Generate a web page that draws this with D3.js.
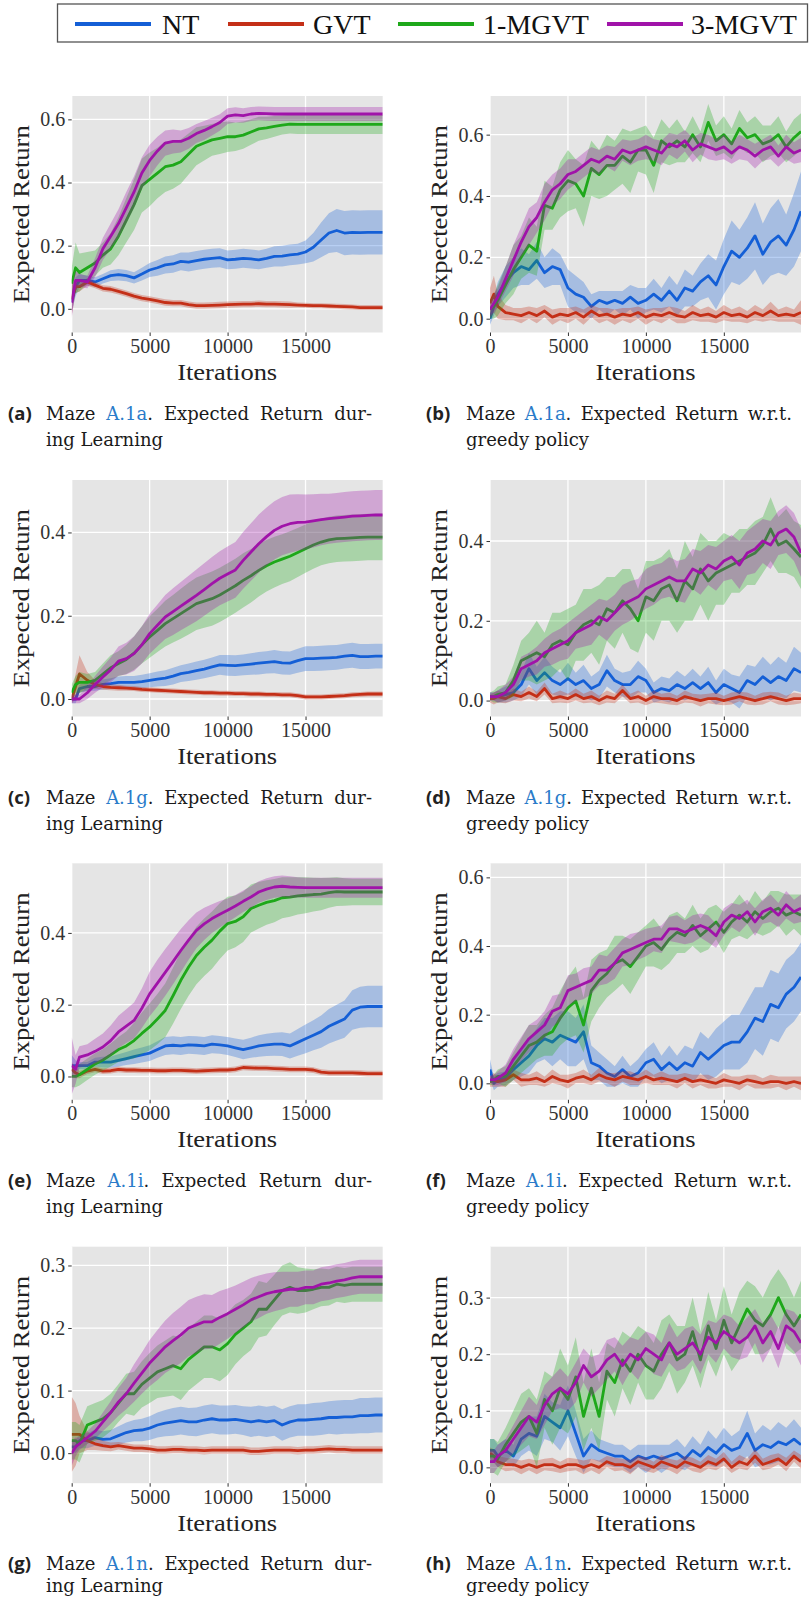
<!DOCTYPE html>
<html><head><meta charset="utf-8">
<script src="https://cdn.jsdelivr.net/npm/d3@7"></script>
<style>body{margin:0;background:#fff}svg{display:block}</style>
</head><body>
<svg id="c" width="809" height="1598"></svg>
<script>
// ---------- shared categories / ticks ----------
const iterations = [0,250,500,1000,1500,2000,2500,3000,3500,4000, 4500,5000,5500,6000,6500,7000,7500,8000,8500,9000, 9500,10000,10500,11000,11500,12000,12500,13000,13500,14000, 14500,15000,15500,16000,16500,17000,17500,18000,18500,19000, 19500,19950];
const seriesNames = ["NT","GVT","1-MGVT","3-MGVT"];
const xTickValues = [0,5000,10000,15000];
const panelLetters = ["a","b","c","d","e","f","g","h"];
const mazeRefs = ["A.1a","A.1a","A.1g","A.1g","A.1i","A.1i","A.1n","A.1n"];
const captionTails = [". Expected Return dur-", ". Expected Return w.r.t."];
const captionLine2 = ["ing Learning","greedy policy"];
const xLabel = "Iterations", yLabel = "Expected Return";
const yTicks_a = [0,0.2,0.4,0.6], yTicks_b = [0,0.2,0.4,0.6];
const yTicks_c = [0,0.2,0.4], yTicks_d = [0,0.2,0.4];
const yTicks_e = [0,0.2,0.4], yTicks_f = [0,0.2,0.4,0.6];
const yTicks_g = [0,0.1,0.2,0.3], yTicks_h = [0,0.1,0.2,0.3];

// ---------- panel (a) ----------
const aNT = [0.02,0.07,0.09,0.09,0.085,0.095,0.105,0.108,0.105,0.098, 0.11,0.123,0.13,0.139,0.142,0.15,0.148,0.153,0.157,0.16, 0.162,0.155,0.157,0.16,0.158,0.155,0.16,0.166,0.167,0.171, 0.173,0.18,0.195,0.218,0.24,0.248,0.24,0.242,0.241,0.242, 0.242,0.242];
const aNTs = [0.03,0.03,0.02,0.015,0.015,0.015,0.017,0.018,0.018,0.018, 0.02,0.022,0.025,0.027,0.028,0.028,0.03,0.03,0.03,0.03, 0.03,0.03,0.03,0.03,0.03,0.03,0.03,0.032,0.033,0.033, 0.033,0.036,0.045,0.055,0.063,0.068,0.07,0.07,0.07,0.07, 0.07,0.07];
const aGVT = [0.03,0.07,0.07,0.085,0.075,0.065,0.062,0.055,0.048,0.04, 0.034,0.03,0.025,0.02,0.018,0.018,0.013,0.01,0.01,0.011, 0.012,0.013,0.014,0.015,0.015,0.016,0.015,0.015,0.014,0.013, 0.012,0.011,0.01,0.01,0.009,0.008,0.007,0.006,0.004,0.004, 0.004,0.004];
const aGVTs = [0.05,0.02,0.015,0.012,0.01,0.01,0.01,0.01,0.01,0.01, 0.01,0.01,0.01,0.01,0.01,0.01,0.01,0.01,0.01,0.01, 0.01,0.01,0.01,0.01,0.01,0.01,0.01,0.01,0.01,0.01, 0.008,0.008,0.008,0.008,0.008,0.008,0.008,0.008,0.008,0.008, 0.008,0.008];
const a1M = [0.08,0.13,0.115,0.13,0.145,0.17,0.19,0.23,0.28,0.33, 0.39,0.41,0.43,0.45,0.455,0.466,0.49,0.515,0.525,0.535, 0.54,0.545,0.545,0.55,0.56,0.57,0.573,0.578,0.582,0.585, 0.584,0.584,0.584,0.584,0.584,0.584,0.584,0.584,0.584,0.584, 0.584,0.584];
const a1Ms = [0.05,0.08,0.06,0.05,0.04,0.04,0.05,0.06,0.07,0.08, 0.085,0.085,0.08,0.08,0.075,0.07,0.065,0.06,0.055,0.05, 0.05,0.048,0.045,0.043,0.04,0.038,0.035,0.033,0.03,0.03, 0.03,0.03,0.03,0.03,0.03,0.03,0.03,0.03,0.03,0.03, 0.03,0.03];
const a3M = [0.02,0.09,0.09,0.085,0.13,0.19,0.23,0.27,0.32,0.37, 0.43,0.47,0.5,0.525,0.53,0.53,0.54,0.555,0.565,0.577, 0.59,0.61,0.614,0.612,0.617,0.619,0.618,0.617,0.617,0.617, 0.617,0.617,0.617,0.617,0.617,0.617,0.617,0.617,0.617,0.617, 0.617,0.617];
const a3Ms = [0.05,0.03,0.02,0.02,0.03,0.035,0.04,0.045,0.05,0.05, 0.05,0.05,0.045,0.04,0.038,0.035,0.033,0.03,0.03,0.028, 0.026,0.025,0.024,0.023,0.022,0.022,0.022,0.022,0.022,0.022, 0.022,0.022,0.022,0.022,0.022,0.022,0.022,0.022,0.022,0.022, 0.022,0.022];

// ---------- panel (b) ----------
const bNT = [0.0,0.04,0.08,0.12,0.15,0.17,0.16,0.19,0.15,0.17, 0.16,0.1,0.08,0.07,0.04,0.06,0.05,0.06,0.05,0.07, 0.05,0.06,0.08,0.06,0.09,0.06,0.1,0.09,0.12,0.14, 0.11,0.17,0.22,0.2,0.23,0.27,0.21,0.25,0.27,0.24, 0.29,0.35];
const bNTs = [0.02,0.03,0.04,0.05,0.05,0.06,0.05,0.06,0.05,0.06, 0.05,0.06,0.06,0.05,0.04,0.03,0.04,0.03,0.04,0.04, 0.05,0.04,0.05,0.04,0.05,0.05,0.06,0.05,0.06,0.07, 0.08,0.09,0.1,0.09,0.1,0.11,0.1,0.11,0.12,0.1, 0.12,0.13];
const bGVT = [0.05,0.08,0.04,0.02,0.015,0.01,0.02,0.01,0.025,0.005, 0.015,0.01,0.02,0.005,0.025,0.01,0.015,0.005,0.015,0.01, 0.02,0.005,0.015,0.01,0.02,0.01,0.005,0.02,0.01,0.015, 0.005,0.02,0.01,0.015,0.005,0.02,0.01,0.025,0.01,0.015, 0.01,0.02];
const bGVTs = [0.05,0.06,0.04,0.025,0.02,0.025,0.02,0.025,0.02,0.025, 0.02,0.025,0.02,0.025,0.02,0.025,0.02,0.025,0.02,0.025, 0.02,0.025,0.02,0.025,0.02,0.025,0.02,0.025,0.02,0.025, 0.02,0.025,0.02,0.025,0.02,0.025,0.02,0.03,0.02,0.025, 0.02,0.04];
const b1M = [0.03,0.04,0.06,0.11,0.16,0.2,0.24,0.22,0.37,0.36, 0.42,0.45,0.44,0.4,0.49,0.47,0.5,0.5,0.53,0.51, 0.55,0.55,0.5,0.58,0.56,0.58,0.56,0.6,0.56,0.64, 0.58,0.6,0.57,0.62,0.59,0.6,0.57,0.58,0.6,0.56, 0.59,0.61];
const b1Ms = [0.03,0.04,0.05,0.06,0.08,0.07,0.09,0.08,0.08,0.07, 0.09,0.1,0.08,0.1,0.09,0.08,0.1,0.08,0.09,0.1, 0.07,0.08,0.09,0.07,0.06,0.07,0.05,0.06,0.05,0.06, 0.05,0.06,0.05,0.06,0.05,0.06,0.06,0.05,0.06,0.05, 0.06,0.06];
const b3M = [0.03,0.05,0.07,0.13,0.19,0.25,0.3,0.33,0.38,0.42, 0.44,0.47,0.48,0.5,0.52,0.51,0.53,0.52,0.55,0.54, 0.55,0.56,0.55,0.54,0.57,0.56,0.58,0.55,0.57,0.56, 0.55,0.56,0.54,0.56,0.55,0.53,0.55,0.56,0.53,0.56, 0.54,0.55];
const b3Ms = [0.02,0.03,0.03,0.04,0.05,0.05,0.06,0.05,0.06,0.05, 0.05,0.05,0.04,0.04,0.04,0.04,0.035,0.04,0.035,0.04, 0.035,0.04,0.035,0.04,0.035,0.04,0.035,0.04,0.035,0.04, 0.035,0.04,0.035,0.04,0.035,0.04,0.035,0.04,0.035,0.04, 0.035,0.04];

// ---------- panel (c) ----------
const cNT = [0.0,0.0,0.025,0.03,0.03,0.035,0.037,0.04,0.04,0.04, 0.042,0.045,0.048,0.05,0.055,0.061,0.064,0.068,0.072,0.077, 0.082,0.081,0.08,0.082,0.084,0.086,0.088,0.09,0.087,0.086, 0.092,0.097,0.097,0.098,0.099,0.1,0.103,0.105,0.102,0.102, 0.103,0.103];
const cNTs = [0.01,0.01,0.01,0.01,0.01,0.012,0.013,0.014,0.015,0.015, 0.016,0.017,0.018,0.019,0.02,0.02,0.021,0.022,0.022,0.023, 0.024,0.025,0.025,0.025,0.026,0.027,0.027,0.028,0.028,0.028, 0.029,0.03,0.03,0.03,0.03,0.03,0.03,0.03,0.03,0.03, 0.03,0.03];
const cGVT = [0.0,0.03,0.06,0.045,0.035,0.03,0.028,0.027,0.026,0.025, 0.023,0.022,0.021,0.02,0.019,0.018,0.017,0.016,0.015,0.015, 0.014,0.014,0.013,0.013,0.012,0.012,0.011,0.011,0.01,0.01, 0.008,0.005,0.005,0.005,0.006,0.007,0.008,0.01,0.011,0.012, 0.012,0.012];
const cGVTs = [0.01,0.03,0.045,0.02,0.01,0.008,0.007,0.007,0.006,0.006, 0.006,0.006,0.006,0.006,0.006,0.006,0.006,0.006,0.006,0.006, 0.006,0.006,0.006,0.006,0.006,0.006,0.006,0.006,0.006,0.006, 0.006,0.006,0.006,0.006,0.006,0.006,0.006,0.006,0.006,0.006, 0.006,0.006];
const c1M = [0.015,0.035,0.04,0.04,0.045,0.06,0.075,0.085,0.095,0.11, 0.13,0.149,0.165,0.181,0.193,0.205,0.217,0.229,0.235,0.241, 0.25,0.261,0.272,0.285,0.296,0.309,0.32,0.329,0.336,0.343, 0.352,0.361,0.37,0.377,0.382,0.385,0.386,0.387,0.388,0.389, 0.389,0.389];
const c1Ms = [0.02,0.02,0.025,0.02,0.02,0.025,0.03,0.03,0.035,0.04, 0.045,0.05,0.052,0.055,0.057,0.06,0.062,0.063,0.064,0.065, 0.065,0.065,0.065,0.065,0.064,0.063,0.062,0.061,0.06,0.06, 0.059,0.058,0.057,0.056,0.056,0.056,0.056,0.056,0.056,0.056, 0.056,0.056];
const c3M = [0.0,0.0,0.0,0.015,0.035,0.053,0.07,0.091,0.097,0.109, 0.13,0.157,0.177,0.197,0.21,0.223,0.236,0.249,0.263,0.277, 0.29,0.3,0.31,0.333,0.353,0.373,0.39,0.405,0.415,0.421, 0.424,0.425,0.428,0.431,0.433,0.435,0.437,0.439,0.44,0.441, 0.442,0.442];
const c3Ms = [0.01,0.01,0.01,0.015,0.02,0.025,0.03,0.035,0.038,0.042, 0.045,0.048,0.05,0.053,0.056,0.058,0.06,0.062,0.063,0.064, 0.065,0.066,0.067,0.068,0.069,0.07,0.07,0.07,0.07,0.07, 0.068,0.066,0.064,0.062,0.06,0.06,0.06,0.06,0.06,0.06, 0.06,0.06];

// ---------- panel (d) ----------
const dNT = [0.01,0.01,0.01,0.015,0.02,0.04,0.08,0.05,0.07,0.05, 0.04,0.055,0.04,0.05,0.03,0.04,0.075,0.05,0.04,0.04, 0.06,0.05,0.02,0.03,0.025,0.04,0.03,0.045,0.03,0.045, 0.02,0.04,0.03,0.02,0.05,0.04,0.06,0.045,0.06,0.05, 0.08,0.07];
const dNTs = [0.01,0.01,0.015,0.02,0.02,0.03,0.04,0.035,0.04,0.035, 0.03,0.04,0.03,0.04,0.03,0.035,0.04,0.03,0.03,0.035, 0.04,0.03,0.025,0.03,0.03,0.035,0.03,0.035,0.03,0.04, 0.03,0.04,0.035,0.04,0.04,0.045,0.05,0.045,0.05,0.045, 0.055,0.05];
const dGVT = [0.005,0.005,0.01,0.005,0.015,0.01,0.02,0.01,0.03,0.005, 0.01,0.005,0.015,0.005,0.01,0.0,0.01,0.005,0.025,0.005, 0.01,0.0,0.01,0.005,0.005,0.0,0.01,0.005,0.0,0.005, 0.005,0.0,0.005,0.01,0.005,0.0,0.005,0.01,0.005,0.0, 0.005,0.005];
const dGVTs = [0.01,0.015,0.015,0.012,0.015,0.012,0.015,0.012,0.015,0.012, 0.015,0.012,0.015,0.012,0.015,0.012,0.015,0.012,0.015,0.012, 0.015,0.012,0.015,0.012,0.015,0.012,0.015,0.012,0.015,0.012, 0.015,0.012,0.015,0.012,0.015,0.012,0.015,0.012,0.015,0.012, 0.015,0.012];
const d1M = [0.01,0.01,0.015,0.02,0.05,0.1,0.11,0.12,0.11,0.14, 0.15,0.14,0.17,0.19,0.2,0.19,0.23,0.22,0.25,0.23, 0.2,0.26,0.25,0.28,0.29,0.25,0.3,0.28,0.33,0.3, 0.32,0.33,0.34,0.35,0.36,0.37,0.39,0.43,0.39,0.4, 0.38,0.36];
const d1Ms = [0.01,0.015,0.02,0.02,0.04,0.05,0.06,0.08,0.06,0.08, 0.07,0.09,0.07,0.09,0.08,0.1,0.08,0.09,0.08,0.1, 0.08,0.09,0.1,0.08,0.09,0.08,0.1,0.08,0.09,0.1, 0.08,0.09,0.07,0.08,0.07,0.08,0.07,0.08,0.07,0.08, 0.07,0.08];
const d3M = [0.01,0.01,0.01,0.02,0.04,0.08,0.09,0.1,0.12,0.13, 0.14,0.15,0.17,0.18,0.19,0.21,0.2,0.22,0.24,0.25, 0.26,0.28,0.29,0.3,0.31,0.3,0.3,0.33,0.32,0.34, 0.33,0.35,0.36,0.34,0.37,0.38,0.4,0.39,0.42,0.43, 0.41,0.37];
const d3Ms = [0.01,0.01,0.015,0.02,0.02,0.03,0.03,0.035,0.035,0.04, 0.04,0.045,0.04,0.045,0.05,0.045,0.05,0.045,0.05,0.05, 0.045,0.05,0.05,0.045,0.05,0.05,0.055,0.05,0.055,0.05, 0.055,0.05,0.055,0.06,0.055,0.06,0.055,0.06,0.055,0.06, 0.06,0.06];

// ---------- panel (e) ----------
const eNT = [0.03,0.03,0.03,0.03,0.04,0.04,0.04,0.045,0.05,0.055, 0.06,0.065,0.075,0.085,0.087,0.085,0.088,0.087,0.085,0.09, 0.088,0.085,0.08,0.075,0.08,0.085,0.088,0.09,0.09,0.085, 0.095,0.105,0.115,0.125,0.14,0.15,0.16,0.185,0.193,0.195, 0.195,0.195];
const eNTs = [0.03,0.015,0.01,0.01,0.012,0.015,0.016,0.017,0.018,0.02, 0.021,0.022,0.023,0.025,0.025,0.025,0.025,0.025,0.025,0.025, 0.025,0.025,0.026,0.027,0.028,0.03,0.031,0.032,0.033,0.035, 0.037,0.04,0.042,0.045,0.048,0.05,0.052,0.055,0.057,0.058, 0.058,0.058];
const eGVT = [0.02,0.01,0.005,0.015,0.02,0.015,0.016,0.02,0.018,0.018, 0.017,0.017,0.016,0.016,0.017,0.017,0.016,0.015,0.016,0.017, 0.018,0.018,0.02,0.025,0.024,0.023,0.023,0.022,0.021,0.02, 0.02,0.02,0.018,0.012,0.01,0.01,0.01,0.01,0.009,0.008, 0.008,0.008];
const eGVTs = [0.02,0.015,0.01,0.008,0.008,0.008,0.008,0.008,0.008,0.008, 0.008,0.008,0.008,0.008,0.008,0.008,0.008,0.008,0.008,0.008, 0.008,0.008,0.008,0.008,0.008,0.008,0.008,0.008,0.008,0.008, 0.008,0.008,0.008,0.008,0.008,0.008,0.008,0.008,0.008,0.008, 0.008,0.008];
const e1M = [0.0,0.0,0.005,0.02,0.035,0.046,0.06,0.075,0.085,0.1, 0.12,0.138,0.16,0.184,0.225,0.268,0.305,0.337,0.36,0.38, 0.405,0.426,0.432,0.445,0.468,0.477,0.485,0.49,0.498,0.5, 0.503,0.505,0.507,0.508,0.512,0.515,0.514,0.514,0.514,0.514, 0.514,0.514];
const e1Ms = [0.03,0.03,0.03,0.03,0.03,0.03,0.032,0.035,0.04,0.05, 0.058,0.065,0.07,0.075,0.078,0.08,0.08,0.08,0.08,0.08, 0.078,0.075,0.072,0.07,0.067,0.065,0.062,0.06,0.057,0.055, 0.052,0.05,0.047,0.045,0.042,0.04,0.038,0.037,0.037,0.037, 0.037,0.037];
const e3M = [0.03,0.02,0.054,0.06,0.07,0.082,0.1,0.124,0.14,0.156, 0.19,0.23,0.26,0.29,0.32,0.351,0.38,0.407,0.425,0.44, 0.452,0.463,0.475,0.488,0.5,0.514,0.522,0.528,0.53,0.528, 0.527,0.526,0.526,0.526,0.526,0.526,0.526,0.526,0.526,0.526, 0.526,0.526];
const e3Ms = [0.08,0.04,0.03,0.03,0.035,0.038,0.042,0.045,0.047,0.05, 0.055,0.062,0.065,0.065,0.063,0.06,0.055,0.05,0.045,0.04, 0.037,0.033,0.031,0.03,0.03,0.03,0.03,0.03,0.03,0.03, 0.028,0.028,0.028,0.028,0.028,0.028,0.028,0.028,0.028,0.028, 0.028,0.028];

// ---------- panel (f) ----------
const fNT = [0.04,0.0,0.01,0.015,0.04,0.06,0.08,0.11,0.13,0.12, 0.14,0.13,0.12,0.15,0.06,0.05,0.03,0.02,0.04,0.02, 0.03,0.06,0.07,0.04,0.06,0.04,0.06,0.05,0.09,0.07, 0.09,0.11,0.12,0.12,0.15,0.19,0.18,0.23,0.22,0.26, 0.28,0.31];
const fNTs = [0.03,0.02,0.02,0.02,0.03,0.04,0.05,0.05,0.06,0.07, 0.07,0.08,0.07,0.08,0.05,0.04,0.04,0.03,0.04,0.03, 0.04,0.04,0.05,0.04,0.05,0.04,0.05,0.05,0.06,0.06, 0.07,0.07,0.08,0.08,0.09,0.09,0.1,0.1,0.1,0.1, 0.1,0.1];
const fGVT = [0.005,0.01,0.005,0.01,0.025,0.01,0.01,0.015,0.005,0.02, 0.01,0.005,0.015,0.02,0.01,0.025,0.015,0.01,0.02,0.015, 0.01,0.02,0.01,0.015,0.01,0.005,0.015,0.005,0.01,0.005, 0.0,0.01,0.005,0.0,0.01,0.005,0.0,0.005,0.005,0.0, 0.005,0.0];
const fGVTs = [0.015,0.02,0.015,0.02,0.015,0.02,0.015,0.02,0.015,0.02, 0.015,0.02,0.015,0.02,0.015,0.02,0.015,0.02,0.015,0.02, 0.015,0.02,0.015,0.02,0.015,0.02,0.015,0.02,0.015,0.02, 0.015,0.02,0.015,0.02,0.015,0.02,0.015,0.02,0.015,0.02, 0.015,0.02];
const f1M = [0.005,0.01,0.02,0.02,0.05,0.08,0.11,0.12,0.14,0.15, 0.19,0.22,0.24,0.17,0.27,0.3,0.32,0.35,0.36,0.34, 0.37,0.4,0.41,0.39,0.42,0.44,0.43,0.46,0.43,0.45, 0.47,0.44,0.47,0.49,0.47,0.5,0.48,0.5,0.51,0.49, 0.5,0.49];
const f1Ms = [0.01,0.015,0.02,0.03,0.04,0.05,0.06,0.05,0.06,0.07, 0.08,0.09,0.1,0.08,0.09,0.08,0.07,0.08,0.07,0.08, 0.07,0.06,0.07,0.06,0.07,0.06,0.05,0.06,0.05,0.06, 0.05,0.06,0.05,0.06,0.05,0.06,0.05,0.06,0.05,0.06, 0.05,0.06];
const f3M = [0.01,0.01,0.015,0.03,0.07,0.1,0.13,0.15,0.17,0.21, 0.22,0.27,0.28,0.29,0.3,0.33,0.33,0.35,0.38,0.39, 0.4,0.41,0.42,0.42,0.45,0.45,0.44,0.45,0.46,0.45, 0.43,0.47,0.49,0.48,0.5,0.47,0.5,0.51,0.49,0.52, 0.5,0.51];
const f3Ms = [0.01,0.015,0.02,0.025,0.03,0.035,0.04,0.035,0.04,0.045, 0.04,0.045,0.04,0.045,0.04,0.045,0.04,0.045,0.04,0.045, 0.04,0.04,0.035,0.04,0.035,0.04,0.035,0.04,0.035,0.04, 0.035,0.04,0.035,0.04,0.035,0.04,0.035,0.04,0.035,0.04, 0.035,0.04];

// ---------- panel (g) ----------
const gNT = [0.01,0.01,0.02,0.02,0.025,0.022,0.023,0.028,0.033,0.036, 0.037,0.04,0.045,0.048,0.05,0.052,0.05,0.05,0.053,0.055, 0.053,0.053,0.054,0.052,0.05,0.052,0.05,0.052,0.045,0.05, 0.053,0.053,0.054,0.055,0.057,0.057,0.058,0.058,0.06,0.06, 0.061,0.061];
const gNTs = [0.01,0.01,0.012,0.012,0.013,0.013,0.014,0.015,0.016,0.017, 0.018,0.019,0.02,0.021,0.022,0.022,0.022,0.023,0.023,0.023, 0.023,0.023,0.023,0.023,0.024,0.024,0.024,0.024,0.025,0.025, 0.025,0.025,0.026,0.026,0.026,0.027,0.027,0.027,0.028,0.028, 0.028,0.028];
const gGVT = [0.03,0.03,0.03,0.02,0.015,0.012,0.01,0.012,0.01,0.008, 0.008,0.007,0.005,0.005,0.006,0.006,0.005,0.005,0.004,0.005, 0.005,0.005,0.005,0.005,0.003,0.003,0.004,0.005,0.005,0.005, 0.004,0.005,0.005,0.006,0.007,0.006,0.006,0.005,0.005,0.005, 0.005,0.005];
const gGVTs = [0.06,0.05,0.03,0.015,0.01,0.008,0.007,0.006,0.006,0.006, 0.006,0.006,0.006,0.006,0.006,0.006,0.006,0.006,0.006,0.006, 0.006,0.006,0.006,0.006,0.006,0.006,0.006,0.006,0.006,0.006, 0.006,0.006,0.006,0.006,0.006,0.006,0.006,0.006,0.006,0.006, 0.006,0.006];
const g1M = [0.02,0.02,0.015,0.045,0.05,0.055,0.065,0.08,0.095,0.095, 0.11,0.12,0.13,0.135,0.14,0.135,0.15,0.16,0.17,0.17, 0.165,0.175,0.19,0.2,0.21,0.23,0.23,0.245,0.26,0.265, 0.26,0.26,0.262,0.265,0.265,0.27,0.268,0.27,0.27,0.27, 0.27,0.27];
const g1Ms = [0.03,0.03,0.03,0.03,0.03,0.03,0.03,0.03,0.032,0.035, 0.037,0.04,0.042,0.045,0.048,0.05,0.05,0.05,0.05,0.05, 0.05,0.05,0.048,0.045,0.045,0.045,0.042,0.04,0.04,0.04, 0.037,0.035,0.032,0.03,0.029,0.028,0.028,0.028,0.028,0.028, 0.028,0.028];
const g3M = [0.0,0.01,0.015,0.025,0.035,0.05,0.065,0.082,0.095,0.112, 0.128,0.144,0.157,0.17,0.18,0.189,0.2,0.205,0.21,0.21, 0.217,0.223,0.23,0.237,0.245,0.25,0.255,0.258,0.26,0.262, 0.262,0.265,0.265,0.27,0.272,0.275,0.277,0.28,0.282,0.282, 0.282,0.282];
const g3Ms = [0.02,0.015,0.01,0.01,0.012,0.015,0.018,0.022,0.025,0.03, 0.033,0.037,0.04,0.042,0.044,0.045,0.045,0.045,0.044,0.043, 0.042,0.04,0.038,0.037,0.035,0.034,0.032,0.031,0.03,0.028, 0.028,0.027,0.027,0.027,0.027,0.027,0.027,0.027,0.027,0.027, 0.027,0.027];

// ---------- panel (h) ----------
const hNT = [0.03,0.03,0.02,0.03,0.02,0.05,0.06,0.055,0.09,0.08, 0.07,0.1,0.06,0.02,0.04,0.03,0.025,0.02,0.02,0.01, 0.02,0.015,0.02,0.015,0.02,0.025,0.015,0.03,0.02,0.035, 0.025,0.04,0.03,0.035,0.06,0.03,0.04,0.035,0.045,0.04, 0.05,0.04];
const hNTs = [0.02,0.02,0.02,0.02,0.02,0.03,0.03,0.035,0.04,0.035, 0.04,0.045,0.04,0.03,0.025,0.02,0.02,0.02,0.02,0.02, 0.02,0.025,0.02,0.025,0.02,0.025,0.02,0.025,0.02,0.03, 0.025,0.03,0.025,0.03,0.04,0.03,0.035,0.03,0.035,0.03, 0.035,0.03];
const hGVT = [0.025,0.02,0.01,0.005,0.005,0.0,0.005,0.0,0.005,0.005, 0.0,0.005,0.005,0.0,0.005,0.0,0.01,0.005,0.005,0.0, 0.01,0.005,0.0,0.01,0.005,0.0,0.01,0.005,0.0,0.01, 0.005,0.015,0.0,0.01,0.005,0.02,0.005,0.01,0.015,0.005, 0.02,0.01];
const hGVTs = [0.01,0.012,0.01,0.012,0.01,0.012,0.01,0.012,0.01,0.012, 0.01,0.012,0.01,0.012,0.01,0.012,0.01,0.012,0.01,0.012, 0.01,0.012,0.01,0.012,0.01,0.012,0.01,0.012,0.01,0.012, 0.01,0.012,0.01,0.012,0.01,0.012,0.01,0.012,0.01,0.012, 0.01,0.012];
const h1M = [0.02,0.02,0.015,0.04,0.06,0.08,0.09,0.06,0.12,0.1, 0.14,0.12,0.16,0.09,0.14,0.09,0.17,0.15,0.19,0.17, 0.2,0.18,0.17,0.2,0.22,0.19,0.2,0.24,0.19,0.25, 0.21,0.26,0.22,0.25,0.28,0.26,0.25,0.27,0.3,0.27, 0.25,0.27];
const h1Ms = [0.03,0.03,0.03,0.03,0.04,0.05,0.05,0.06,0.05,0.06, 0.07,0.06,0.07,0.06,0.07,0.06,0.05,0.06,0.05,0.06, 0.05,0.06,0.05,0.06,0.05,0.06,0.05,0.06,0.05,0.06, 0.05,0.06,0.05,0.06,0.05,0.06,0.05,0.06,0.05,0.06, 0.05,0.06];
const h3M = [0.01,0.01,0.02,0.03,0.05,0.07,0.09,0.08,0.11,0.13, 0.14,0.13,0.15,0.18,0.16,0.17,0.19,0.2,0.18,0.2, 0.19,0.21,0.2,0.19,0.22,0.2,0.21,0.22,0.2,0.23, 0.22,0.24,0.23,0.22,0.23,0.25,0.22,0.24,0.21,0.25, 0.24,0.22];
const h3Ms = [0.02,0.02,0.02,0.02,0.025,0.03,0.035,0.03,0.035,0.03, 0.035,0.03,0.035,0.03,0.035,0.03,0.035,0.03,0.035,0.03, 0.035,0.03,0.035,0.03,0.035,0.03,0.035,0.03,0.035,0.03, 0.035,0.03,0.035,0.03,0.035,0.03,0.035,0.03,0.035,0.03, 0.035,0.04];

// ---------- panel table built from the arrays ----------
const panels = [
  {ticks:yTicks_a, dom:[-0.075,0.674], s:[[aNT,aNTs],[aGVT,aGVTs],[a1M,a1Ms],[a3M,a3Ms]]},
  {ticks:yTicks_b, dom:[-0.045,0.726], s:[[bNT,bNTs],[bGVT,bGVTs],[b1M,b1Ms],[b3M,b3Ms]]},
  {ticks:yTicks_c, dom:[-0.042,0.526], s:[[cNT,cNTs],[cGVT,cGVTs],[c1M,c1Ms],[c3M,c3Ms]]},
  {ticks:yTicks_d, dom:[-0.040,0.553], s:[[dNT,dNTs],[dGVT,dGVTs],[d1M,d1Ms],[d3M,d3Ms]]},
  {ticks:yTicks_e, dom:[-0.065,0.594], s:[[eNT,eNTs],[eGVT,eGVTs],[e1M,e1Ms],[e3M,e3Ms]]},
  {ticks:yTicks_f, dom:[-0.048,0.641], s:[[fNT,fNTs],[fGVT,fGVTs],[f1M,f1Ms],[f3M,f3Ms]]},
  {ticks:yTicks_g, dom:[-0.048,0.330], s:[[gNT,gNTs],[gGVT,gGVTs],[g1M,g1Ms],[g3M,g3Ms]]},
  {ticks:yTicks_h, dom:[-0.028,0.390], s:[[hNT,hNTs],[hGVT,hGVTs],[h1M,h1Ms],[h3M,h3Ms]]}
];

// ---------- styles / layout ----------
const colors = {"NT":"#145fd6","GVT":"#c42f17","1-MGVT":"#1ea81a","3-MGVT":"#a013a9"};
const SERIF = "'Liberation Serif', 'DejaVu Serif', serif";
const colX = [71.7, 490], plotW = 311;
const rowTop = [96, 480, 863.3, 1246.7], plotH = 236.5;
const svg = d3.select("#c");
const defs = svg.append("defs");

function serifText(sel, size, fill) {
  return sel.style("font-family", SERIF).style("font-weight", "400")
    .style("font-size", size + "px").attr("fill", fill);
}

panels.forEach((p, i) => {
  const col = i % 2, row = Math.floor(i / 2);
  const x0 = colX[col], y0 = rowTop[row];
  const x = d3.scaleLinear().domain([0, 19950]).range([x0, x0 + plotW]);
  const y = d3.scaleLinear().domain(p.dom).range([y0 + plotH, y0]);
  const g = svg.append("g");
  g.append("rect").attr("x", x0).attr("y", y0).attr("width", plotW).attr("height", plotH).attr("fill", "#e5e5e5");
  g.selectAll(null).data(p.ticks).join("line")
    .attr("x1", x0).attr("x2", x0 + plotW).attr("y1", d => y(d)).attr("y2", d => y(d))
    .attr("stroke", "#fff").attr("stroke-width", 1.3);
  g.selectAll(null).data(xTickValues).join("line")
    .attr("y1", y0).attr("y2", y0 + plotH).attr("x1", d => x(d)).attr("x2", d => x(d))
    .attr("stroke", "#fff").attr("stroke-width", 1.3);

  const cid = "clip" + panelLetters[i];
  defs.append("clipPath").attr("id", cid).append("rect")
    .attr("x", x0).attr("y", y0).attr("width", plotW).attr("height", plotH);
  const pg = g.append("g").attr("clip-path", `url(#${cid})`);
  p.s.forEach(([m, s], k) => {
    const color = colors[seriesNames[k]];
    const n = Math.min(iterations.length, m.length, s.length);
    const idx = d3.range(n);
    pg.append("path").datum(idx)
      .attr("d", d3.area().x(j => x(iterations[j])).y0(j => y(m[j] - s[j])).y1(j => y(m[j] + s[j])))
      .attr("fill", color).attr("fill-opacity", 0.3);
    pg.append("path").datum(idx)
      .attr("d", d3.line().x(j => x(iterations[j])).y(j => y(m[j])))
      .attr("fill", "none").attr("stroke", color).attr("stroke-width", 2.8)
      .attr("stroke-linejoin", "round");
  });

  const ya = g.append("g").attr("transform", `translate(${x0},0)`)
    .call(d3.axisLeft(y).tickValues(p.ticks).tickSize(3.5).tickPadding(3).tickFormat(d3.format(".1f")));
  const xa = g.append("g").attr("transform", `translate(0,${y0 + plotH})`)
    .call(d3.axisBottom(x).tickValues(xTickValues).tickSize(3.5).tickPadding(3).tickFormat(d3.format("d")));
  [ya, xa].forEach(a => {
    a.attr("font-family", null).attr("font-size", null);
    a.select(".domain").remove();
    a.selectAll(".tick line").attr("stroke", "#333");
    serifText(a.selectAll(".tick text"), 20, "#333");
  });

  serifText(g.append("text"), 24, "#222")
    .attr("x", x0 + plotW / 2).attr("y", y0 + plotH + 47.3)
    .attr("text-anchor", "middle").attr("textLength", 100).attr("lengthAdjust", "spacingAndGlyphs").text(xLabel);
  serifText(g.append("text"), 24, "#222")
    .attr("transform", `translate(${x0 - 42.7},${y0 + plotH / 2}) rotate(-90)`)
    .attr("text-anchor", "middle").attr("textLength", 178).attr("lengthAdjust", "spacingAndGlyphs").text(yLabel);

  // caption
  const capX = [8, 426][col], txtX = [46, 466][col], capW = 326;
  const cy1 = y0 + 323.5, cy2 = Math.min(y0 + 349.5, 1592);
  svg.append("text").attr("x", capX).attr("y", cy1)
    .style("font-family", "'Open Sans','Noto Sans',sans-serif").style("font-weight", "700")
    .style("font-size", "18.5px").attr("fill", "#222").text(`(${panelLetters[i]})`);
  const t = svg.append("text").attr("x", txtX).attr("y", cy1)
    .style("font-family", "'DejaVu Serif',serif").style("font-size", "18px").attr("fill", "#1a1a1a");
  t.append("tspan").text("Maze ");
  t.append("tspan").attr("fill", "#2a7bc9").text(mazeRefs[i]);
  t.append("tspan").text(captionTails[col]);
  const full = "Maze " + mazeRefs[i] + captionTails[col];
  const nat = t.node().getComputedTextLength();
  const spaces = (full.match(/ /g) || []).length;
  t.attr("word-spacing", Math.max(0, (capW - nat) / spaces));
  svg.append("text").attr("x", txtX).attr("y", cy2)
    .style("font-family", "'DejaVu Serif',serif").style("font-size", "18px").attr("fill", "#1a1a1a")
    .text(captionLine2[col]);
});

// ---------- legend ----------
const lg = svg.append("g");
lg.append("rect").attr("x", 57.5).attr("y", 4).attr("width", 750).attr("height", 38)
  .attr("fill", "#fff").attr("stroke", "#555").attr("stroke-width", 1.3);
const legLineX = [75, 228, 398, 607], legTextX = [162, 313, 483, 691];
seriesNames.forEach((nm, k) => {
  lg.append("line").attr("x1", legLineX[k]).attr("x2", legLineX[k] + 76).attr("y1", 24).attr("y2", 24)
    .attr("stroke", colors[nm]).attr("stroke-width", 4);
  serifText(lg.append("text"), 28, "#111").attr("x", legTextX[k]).attr("y", 33.5).text(nm);
});
</script>
</body></html>
